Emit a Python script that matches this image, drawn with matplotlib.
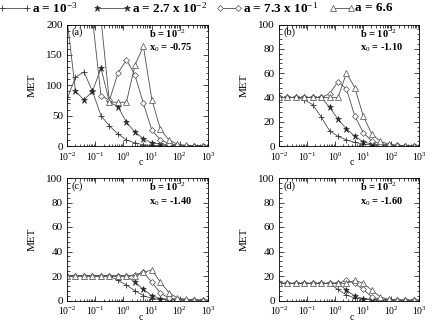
import matplotlib
matplotlib.use('Agg')
import matplotlib.pyplot as plt
from matplotlib.lines import Line2D
from matplotlib.ticker import LogLocator, MultipleLocator, NullFormatter

plt.rcParams['font.family'] = ['Liberation Serif', 'DejaVu Serif']
plt.rcParams['mathtext.fontset'] = 'custom'
plt.rcParams['mathtext.rm'] = 'Liberation Serif'
plt.rcParams['mathtext.it'] = 'Liberation Serif:italic'
plt.rcParams['mathtext.bf'] = 'Liberation Serif:bold'

# c grid (doubling from 0.01)
c = [0.01, 0.02, 0.04, 0.08, 0.16, 0.32, 0.64, 1.28, 2.56, 5.12,
     10.24, 20.48, 40.96, 81.92, 163.84, 327.68, 655.36]

legend_labels = ['a = 10$^{-3}$', 'a = 2.7 x 10$^{-2}$',
                 'a = 7.3 x 10$^{-1}$', 'a = 6.6']

# panel (a), x0 = -0.75
a_p1 = [77, 113, 122, 90, 50, 33, 20, 10, 5, 2, 1, 0.5, 0.3, 0.2, 0.1, 0.1, 0.1]
a_p2 = [210, 90, 76, 90, 128, 72, 65, 39, 23, 12, 5, 3, 1, 0.5, 0.3, 0.2, 0.1]
a_p3 = [260, 260, 260, 210, 83, 75, 120, 142, 117, 70, 26, 10, 4, 1.5, 0.8, 0.5, 0.3]
a_p4 = [260, 260, 260, 260, 210, 72, 72, 72, 133, 164, 76, 28, 10, 3, 1, 0.5, 0.3]

# panel (b), x0 = -1.10
b_p1 = [40, 40, 40, 38, 34, 24, 12.5, 8, 5, 3, 1.5, 1, 0.5, 0.3, 0.2, 0.1, 0.1]
b_p2 = [40, 40, 40, 40, 40, 40, 32, 22, 14, 8, 3.5, 1.5, 1, 0.5, 0.3, 0.2, 0.1]
b_p3 = [40, 40, 40, 40, 40, 40, 43, 53, 47, 24.5, 11, 4, 2, 1, 0.5, 0.3, 0.2]
b_p4 = [40, 40, 40, 40, 40, 40, 40, 40, 60, 48, 24.5, 10, 4, 1.5, 0.5, 0.3, 0.2]

# panel (c), x0 = -1.40
c_p1 = [20, 20, 20, 20, 20, 20, 16.5, 12.5, 8, 4, 1.6, 1, 0.5, 0.3, 0.2, 0.1, 0.1]
c_p2 = [20, 20, 20, 20, 20, 20, 20, 20, 15, 9, 4, 1.5, 1, 0.5, 0.3, 0.2, 0.1]
c_p3 = [20, 20, 20, 20, 20, 20, 20, 20, 21, 23, 15, 6, 2, 1, 0.5, 0.3, 0.2]
c_p4 = [20, 20, 20, 20, 20, 20, 20, 20, 20, 23, 25, 15, 6.5, 2, 1, 0.5, 0.3]

# panel (d), x0 = -1.60
d_p1 = [14, 14, 14, 14, 14, 14, 14, 9, 4.5, 2, 1, 0.6, 0.4, 0.3, 0.2, 0.1, 0.1]
d_p2 = [14, 14, 14, 14, 14, 14, 14, 14, 8.5, 3.5, 1.5, 1, 0.5, 0.3, 0.2, 0.1, 0.1]
d_p3 = [14, 14, 14, 14, 14, 14, 14, 14, 16.5, 14, 9, 3, 1, 0.5, 0.3, 0.2, 0.1]
d_p4 = [14, 14, 14, 14, 14, 14, 14, 14, 14, 16.5, 14, 8.5, 3, 1, 0.5, 0.3, 0.2]

styles = [
    dict(marker='+', ms=4.5, mew=0.6, mfc='none', mec='0.2'),
    dict(marker='*', ms=4.5, mew=0.4, mfc='0.15', mec='0.15'),
    dict(marker='D', ms=3, mew=0.5, mfc='white', mec='0.3'),
    dict(marker='^', ms=3.8, mew=0.5, mfc='white', mec='0.3'),
]
line_kw = dict(color='0.3', lw=0.6)

W, H = 438, 327
panels = [
    ('(a)', '-0.75', [a_p1, a_p2, a_p3, a_p4], 200, 50, [67, 24.5, 141, 121.5]),
    ('(b)', '-1.10', [b_p1, b_p2, b_p3, b_p4], 100, 20, [279, 24.5, 140, 121.5]),
    ('(c)', '-1.40', [c_p1, c_p2, c_p3, c_p4], 100, 20, [67, 178, 141, 122.5]),
    ('(d)', '-1.60', [d_p1, d_p2, d_p3, d_p4], 100, 20, [279, 178, 140, 122.5]),
]

fig = plt.figure(figsize=(W / 100, H / 100), dpi=100)

for tag, x0, series, ymax, ystep, (px, py, pw, ph) in panels:
    ax = fig.add_axes([px / W, 1 - (py + ph) / H, pw / W, ph / H])
    for ys, st in zip(series, styles):
        ax.plot(c, ys, **line_kw, **st)
    ax.set_xscale('log')
    ax.set_xlim(1e-2, 1e3)
    ax.set_ylim(0, ymax)
    ax.xaxis.set_major_locator(LogLocator(base=10, numticks=10))
    ax.xaxis.set_minor_locator(LogLocator(base=10, subs=range(2, 10), numticks=20))
    ax.xaxis.set_minor_formatter(NullFormatter())
    ax.yaxis.set_major_locator(MultipleLocator(ystep))
    ax.yaxis.set_minor_locator(MultipleLocator(ystep / 5))
    ax.tick_params(which='both', direction='in', top=True, right=True,
                   width=0.5, pad=3)
    ax.tick_params(axis='x', labelsize=7)
    ax.tick_params(axis='y', labelsize=8)
    ax.tick_params(which='major', length=3.5)
    ax.tick_params(which='minor', length=1.8)
    for s in ax.spines.values():
        s.set_linewidth(0.6)
    ax.set_ylabel('MET', fontsize=8)
    ax.yaxis.set_label_coords(-0.215, 0.5)
    ax.set_xlabel('c', fontsize=7)
    ax.xaxis.set_label_coords(0.52, -0.1)
    ax.text(0.03, 0.975, tag, transform=ax.transAxes, ha='left', va='top', fontsize=7.5)
    ax.text(0.58, 0.925, 'b = 10$^{-2}$', transform=ax.transAxes, ha='left',
            va='center', fontsize=7.5, fontweight='bold')
    ax.text(0.58, 0.81, 'x$_0$ = ' + x0, transform=ax.transAxes, ha='left',
            va='center', fontsize=7.5, fontweight='bold')

# legend row across the top
legend_pos = [(2, 27, 32), (97, 127, 132), (220, 238, 243), (333, 351, 355)]
ly = 1 - 8 / H
for (x1, x2, xt), st, lab in zip(legend_pos, styles, legend_labels):
    fig.add_artist(Line2D([x1 / W, x2 / W], [ly, ly], transform=fig.transFigure,
                          **line_kw, **st))
    fig.text(xt / W, ly, lab, ha='left', va='center', fontsize=9.5, fontweight='bold')

fig.savefig('out.png', dpi=100)
